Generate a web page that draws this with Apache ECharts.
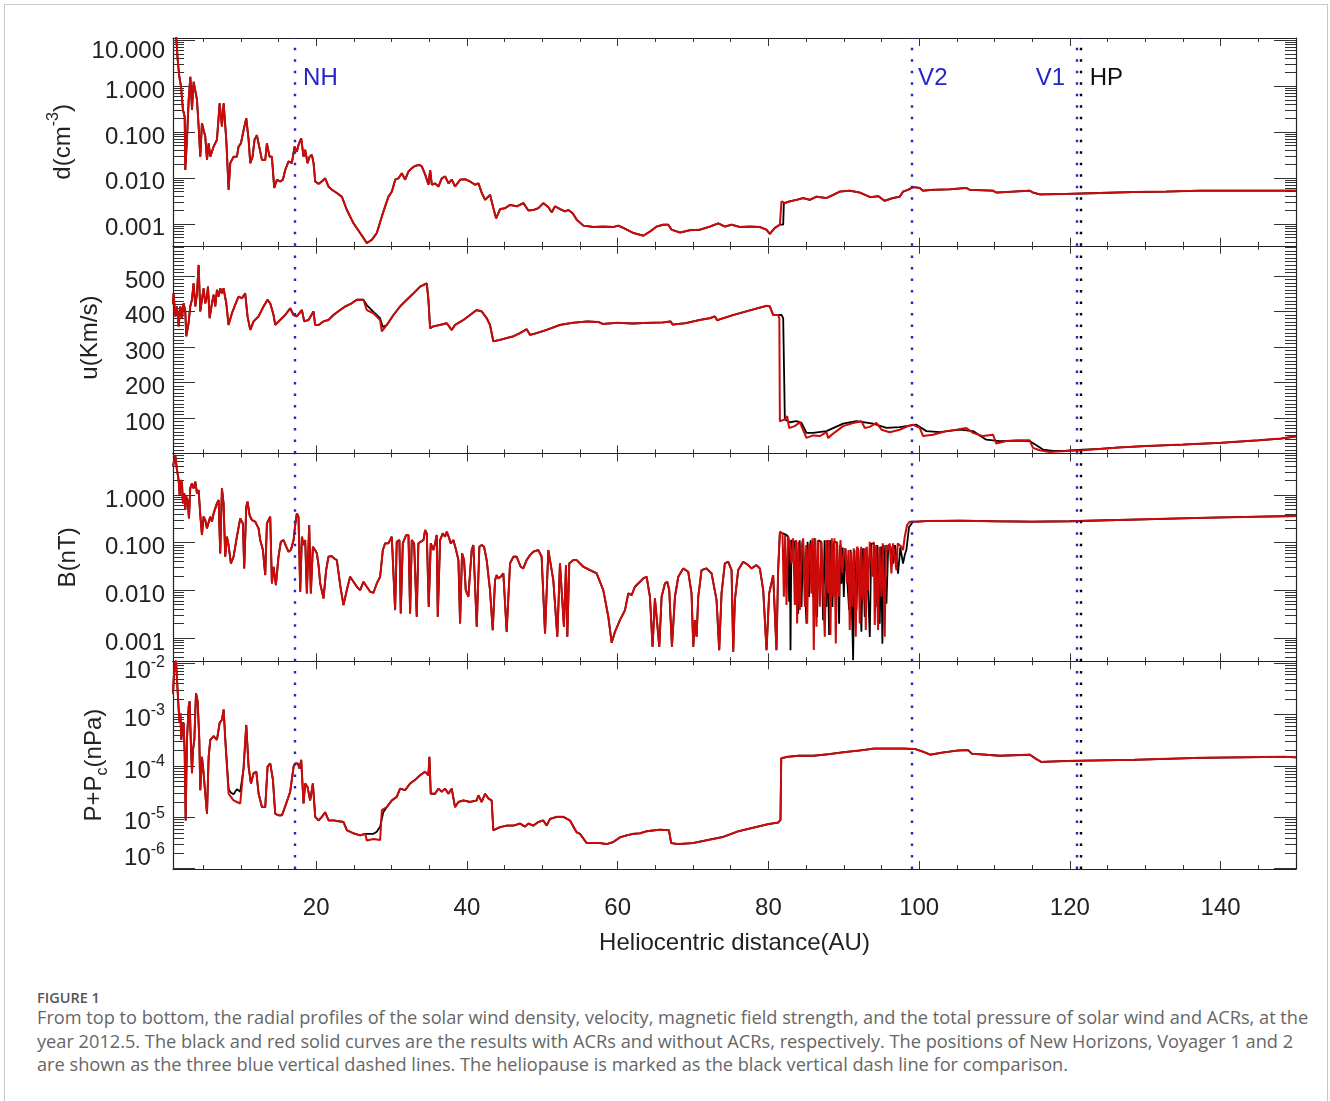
<!DOCTYPE html>
<html>
<head>
<meta charset="utf-8">
<title>Figure 1</title>
<script src="https://cdn.jsdelivr.net/npm/echarts@6/dist/echarts.min.js"></script>
<style>
  html, body { margin: 0; padding: 0; background: #fff; }
  #frame { position: absolute; left: 4px; top: 4px; width: 1322px; height: 1110px; border: 1px solid #c9c9c9; }
  #chart { position: absolute; left: 0; top: 0; width: 1330px; height: 985px; }
  #caption { position: absolute; left: 37px; top: 990px; font-family: "Open Sans", Lato, sans-serif; color: #666; white-space: nowrap; }
  #caption .fig { font-size: 14.5px; line-height: 16px; font-weight: 600; color: #555; }
  #caption .txt { font-size: 18.2px; line-height: 23.5px; }
</style>
</head>
<body>
<div id="frame"></div>
<div id="chart"></div>
<div id="caption">
  <div class="fig">FIGURE 1</div>
  <div class="txt">From top to bottom, the radial profiles of the solar wind density, velocity, magnetic field strength, and the total pressure of solar wind and ACRs, at the<br>year 2012.5. The black and red solid curves are the results with ACRs and without ACRs, respectively. The positions of New Horizons, Voyager 1 and 2<br>are shown as the three blue vertical dashed lines. The heliopause is marked as the black vertical dash line for comparison.</div>
</div>
<script>
// ---- data (x = heliocentric distance in AU) ----
const xMajor = [20, 40, 60, 80, 100, 120, 140];

// spacecraft / heliopause positions (AU)
const markerNames = ['NH', 'V2', 'V1', 'HP'];
const markerAU = [17.2, 99.0, 120.95, 121.5];

// log10 of density d (cm^-3), without ACRs (red)
const densityRed = [
  [1.0,1.2],[1.4,1.15],[1.62,0.57],[1.84,0.20],[2.06,-0.01],[2.32,-0.52],[2.55,-0.67],[2.63,-1.83],[2.85,-1.17],[3.08,-0.30],
  [3.30,0.20],[3.52,-0.52],[3.74,0.09],[3.96,0.13],[4.18,-0.30],[4.40,-0.88],[4.62,-1.54],[4.84,-0.81],[5.06,-0.96],[5.28,-1.10],
  [5.51,-1.61],[5.73,-1.25],[5.95,-1.54],[6.39,-1.32],[6.83,-1.17],[7.19,-0.38],[7.49,-0.88],[7.72,-0.38],[8.07,-1.17],[8.38,-2.26],
  [8.60,-1.68],[9.04,-1.54],[9.48,-1.54],[9.70,-1.32],[10.01,-1.25],[10.37,-0.96],[10.72,-0.70],[11.03,-1.17],[11.25,-1.68],[11.56,-1.54],
  [11.82,-1.17],[12.13,-1.07],[12.44,-1.32],[12.80,-1.61],[13.24,-1.61],[13.46,-1.25],[13.81,-1.54],[14.12,-1.54],[14.43,-2.22],[14.79,-2.04],
  [15.23,-2.08],[15.58,-2.04],[15.89,-1.83],[16.33,-1.64],[16.77,-1.68],[17.13,-1.32],[17.44,-1.43],[17.66,-1.28],[18.01,-1.14],[18.32,-1.54],
  [18.54,-1.39],[18.85,-1.68],[19.12,-1.54],[19.43,-1.50],[19.65,-1.68],[19.87,-2.08],[20.31,-2.13],[20.75,-2.08],[21.19,-2.01],[21.64,-2.19],
  [22.08,-2.26],[22.74,-2.33],[23.40,-2.41],[24.07,-2.70],[24.95,-2.99],[25.83,-3.20],[26.72,-3.42],[27.38,-3.35],[28.04,-3.20],[28.71,-2.84],
  [29.15,-2.62],[29.59,-2.41],[30.04,-2.30],[30.48,-2.04],[30.92,-2.01],[31.36,-1.90],[31.80,-2.04],[32.25,-1.86],[32.69,-1.79],[33.13,-1.74],
  [33.70,-1.72],[34.01,-1.75],[34.46,-1.93],[34.90,-2.15],[35.12,-1.83],[35.34,-2.15],[35.78,-2.12],[36.22,-2.19],[36.66,-2.01],[37.11,-1.97],
  [37.55,-2.12],[37.99,-2.04],[38.43,-2.19],[39.10,-2.04],[39.76,-2.03],[40.42,-2.08],[41.08,-2.15],[41.53,-2.12],[41.97,-2.33],[42.41,-2.48],
  [43.07,-2.37],[43.51,-2.66],[43.87,-2.88],[44.40,-2.68],[45.06,-2.66],[45.72,-2.59],[46.61,-2.62],[47.49,-2.55],[48.15,-2.71],[48.82,-2.70],
  [49.48,-2.66],[50.14,-2.55],[50.81,-2.64],[51.25,-2.75],[51.69,-2.62],[52.35,-2.68],[53.01,-2.73],[53.46,-2.70],[54.03,-2.77],[54.56,-2.91],
  [55.45,-3.04],[56.77,-3.07],[58.10,-3.06],[59.42,-3.07],[60.09,-3.04],[60.75,-3.09],[62.07,-3.20],[63.40,-3.26],[64.28,-3.17],[65.17,-3.06],
  [66.05,-3.02],[66.71,-3.02],[67.16,-3.13],[68.26,-3.19],[69.59,-3.14],[70.91,-3.13],[72.24,-3.06],[73.34,-2.99],[74.23,-3.06],[75.11,-3.02],
  [76.21,-3.07],[77.54,-3.06],[78.87,-3.07],[79.75,-3.13],[80.19,-3.22],[80.85,-3.09],[81.52,-3.02],[81.74,-2.51],[82.18,-2.55],[82.84,-2.51],
  [83.73,-2.48],[84.61,-2.44],[85.49,-2.48],[86.38,-2.41],[87.70,-2.44],[88.59,-2.37],[89.47,-2.30],[90.80,-2.28],[92.12,-2.32],[93.5,-2.42],
  [94.6,-2.40],[95.4,-2.50],[96.5,-2.44],[97.43,-2.41],[97.87,-2.30],[98.53,-2.26],[99.20,-2.20],[100.08,-2.22],[100.52,-2.28],[101.85,-2.26],
  [104.06,-2.25],[106.27,-2.22],[106.71,-2.26],[109.80,-2.28],[110.24,-2.32],[114.66,-2.28],[115.11,-2.32],[115.99,-2.36],[119.52,-2.35],[123.94,-2.33],
  [128.36,-2.31],[132.78,-2.30],[137.20,-2.28],[141.62,-2.28],[146.04,-2.28],[150,-2.28]
];
// with ACRs (black): same profile, shock jump slightly further out
const densityBlackJump = [[81.96,-3.02],[82.05,-2.55]];
const densityBlack = [...densityRed.filter(p => p[0] < 81.6), ...densityBlackJump, ...densityRed.filter(p => p[0] > 82.1)];

// velocity u (km/s), without ACRs (red)
const velocityRed = [
  [1.0,420],[1.08,451],[1.30,386],[1.53,414],[1.75,358],[1.97,414],[2.19,381],[2.41,423],[2.63,400],[2.76,330],
  [3.07,367],[3.29,414],[3.51,433],[3.73,479],[3.96,414],[4.18,451],[4.40,531],[4.62,400],[4.84,433],[5.06,465],
  [5.28,423],[5.50,442],[5.64,470],[5.86,381],[6.17,423],[6.39,447],[6.61,414],[6.83,461],[7.05,442],[7.27,465],
  [7.49,451],[7.71,465],[8.07,423],[8.37,362],[8.82,395],[9.26,419],[9.70,442],[10.14,437],[10.58,451],[10.89,386],
  [11.25,348],[11.69,372],[12.35,386],[13.01,414],[13.55,433],[13.90,423],[14.34,390],[14.56,362],[15.22,376],[15.89,390],
  [16.55,409],[16.99,390],[17.43,386],[18.10,404],[18.41,372],[18.98,376],[19.64,400],[19.86,362],[20.31,362],[20.97,372],
  [21.63,376],[22.29,390],[23.18,404],[23.84,414],[24.72,423],[25.39,433],[26.27,433],[26.71,404],[27.60,395],[28.48,376],
  [28.70,344],[29.37,362],[30.25,390],[31.13,414],[32.02,433],[32.90,451],[33.78,470],[34.67,479],[34.89,433],[35.11,353],
  [35.55,358],[36.43,362],[37.32,367],[37.98,348],[38.42,362],[39.53,376],[40.41,390],[41.29,404],[41.96,400],[42.62,381],
  [43.06,362],[43.50,316],[44.39,320],[45.27,325],[46.16,330],[47.04,339],[47.93,350],[48.37,334],[49.25,339],[50.58,348],
  [52.34,362],[54,368],[56,372],[57.5,370],[58,365],[60,368],[62,366],[64,368],[66,369],[67,372],
  [67.3,363],[69,367],[70.91,376],[72.24,381],[72.90,386],[73.21,375],[73.56,378],[75.33,390],[77.54,403],[79.75,416],
  [80.19,414],[80.63,390],[81.29,390],[81.45,380],[81.52,91],[81.74,91],[82.18,96],[82.49,105],[82.75,72],[83.50,77],
  [84.17,88],[85.05,44],[85.93,51],[86.82,49],[87.70,60],[87.92,44],[88.59,56],[89.91,77],[91.24,86],[92.34,91],
  [92.78,72],[93.45,75],[94.33,86],[95.00,67],[96.10,60],[97.42,67],[98.75,79],[99.19,81],[100.08,72],[100.52,49],
  [101.84,53],[103.61,63],[104.94,67],[106.26,72],[107.15,58],[108.47,49],[109.80,53],[110.24,28],[111.57,35],[113.33,37],
  [114.66,37],[115.10,16],[115.99,9],[117.31,4],[119.52,7],[121.73,9],[123.94,13],[126.59,17],[130,21],[135,25],
  [140,30],[145,37],[148,42],[150,48]
];
const velocityBlackA = [[26.27,433],[26.71,418],[27.60,399],[28.48,381],[28.84,356],[29.37,362]];
const velocityBlackB = [
  [81.29,390],[81.74,390],[81.96,381],[82.18,96],[82.84,88],[83.73,91],[84.39,86],[85.05,58],[85.93,58],[87.70,63],
  [89.91,84],[91.68,91],[93.89,84],[95.66,72],[97.42,74],[99.63,81],[100.96,63],[102.73,60],[105.38,67],[107.15,63],
  [108.91,39],[110.68,35],[112.89,36],[114.66,35],[116.43,11],[117.75,7],[119.52,8],[121.73,11],[123.94,13]
];
const velocityBlack = [...velocityRed.filter(p => p[0] < 26.2), ...velocityBlackA,
  ...velocityRed.filter(p => p[0] > 29.4 && p[0] < 81.2), ...velocityBlackB, ...velocityRed.filter(p => p[0] > 124)];

// log10 of magnetic field B (nT), without ACRs (red)
const fieldRed = [
  [1.0,0.6],[1.08,0.665],[1.30,0.84],[1.53,0.525],[1.75,0.315],[1.88,0.0],[2.06,0.315],[2.19,0.245],[2.32,-0.175],[2.50,0.035],
  [2.63,-0.315],[2.76,-0.035],[2.94,-0.105],[3.12,-0.49],[3.29,0.14],[3.51,0.245],[3.73,0.14],[3.96,0.28],[4.18,0.035],[4.40,0.105],
  [4.62,-0.42],[4.84,-0.84],[5.06,-0.455],[5.28,-0.525],[5.50,-0.70],[5.72,-0.735],[5.94,-0.455],[6.17,-0.56],[6.39,-0.385],[6.61,-0.42],
  [6.83,-0.175],[7.05,-0.105],[7.27,-1.225],[7.49,0.14],[7.71,-0.175],[7.93,-1.295],[8.15,-0.875],[8.37,-1.05],[8.68,-1.435],[9.04,-1.295],
  [9.48,-0.875],[9.92,-0.49],[10.27,-0.595],[10.45,-1.541],[10.72,-0.245],[10.89,-0.14],[11.16,-0.42],[11.47,-0.525],[11.91,-0.56],[12.35,-0.70],
  [12.57,-0.945],[12.93,-1.155],[13.24,-1.681],[13.46,-0.595],[13.90,-0.455],[14.12,-1.856],[14.34,-1.506],[14.65,-1.891],[15.00,-1.295],[15.31,-0.98],
  [15.67,-0.945],[16.02,-1.085],[16.33,-1.19],[16.64,-1.155],[17.00,-0.945],[17.21,-0.63],[17.43,-0.385],[17.65,-0.455],[17.88,-2.031],[18.10,-0.875],
  [18.32,-1.05],[18.54,-0.945],[18.76,-2.066],[19.07,-0.63],[19.29,-2.066],[19.56,-1.085],[19.86,-1.155],[20.09,-1.225],[20.31,-1.471],[20.53,-1.856],
  [20.97,-2.171],[21.32,-1.576],[21.63,-1.295],[22.07,-1.282],[22.38,-1.331],[22.74,-1.366],[23.18,-1.891],[23.62,-2.311],[24.06,-1.996],[24.50,-1.716],
  [24.95,-1.821],[25.39,-1.926],[25.83,-1.996],[26.27,-1.821],[26.71,-1.926],[27.16,-2.031],[27.60,-2.052],[28.04,-1.856],[28.48,-1.716],[28.84,-1.155],
  [29.15,-1.015],[29.59,-1.015],[30.03,-0.875],[30.25,-0.91],[30.47,-2.416],[30.69,-0.98],[31.04,-0.945],[31.22,-2.486],[31.49,-1.015],[31.93,-0.84],
  [32.24,-0.84],[32.46,-2.486],[32.68,-0.945],[32.99,-1.015],[33.34,-2.556],[33.56,-1.015],[33.87,-0.98],[34.23,-0.945],[34.45,-0.735],[34.67,-0.805],
  [34.93,-2.346],[35.20,-1.015],[35.55,-1.155],[35.77,-1.015],[35.99,-0.84],[36.13,-2.556],[36.44,-0.945],[36.79,-0.805],[37.10,-0.875],[37.32,-0.77],
  [37.58,-0.875],[37.85,-1.015],[38.20,-0.945],[38.56,-1.155],[38.87,-1.366],[39.09,-2.696],[39.35,-1.225],[39.62,-1.366],[39.84,-1.996],[40.19,-2.136],
  [40.63,-1.155],[40.85,-1.05],[41.08,-1.085],[41.30,-2.766],[41.65,-1.085],[41.96,-1.05],[42.27,-1.085],[42.62,-1.366],[43.06,-1.996],[43.42,-2.836],
  [43.73,-1.786],[43.95,-1.681],[44.17,-1.751],[44.48,-1.716],[44.83,-1.646],[45.27,-2.871],[45.72,-1.436],[46.16,-1.296],[46.60,-1.296],[47.13,-1.506],
  [47.48,-1.541],[47.92,-1.366],[48.37,-1.261],[48.81,-1.19],[49.47,-1.155],[49.91,-1.296],[50.36,-2.906],[50.80,-1.155],[51.02,-1.12],[51.46,-1.786],
  [51.99,-2.976],[52.34,-1.436],[52.56,-1.471],[52.87,-2.766],[53.14,-1.471],[53.32,-2.976],[53.58,-1.436],[54.11,-1.366],[54.56,-1.366],[55.44,-1.506],
  [56.33,-1.576],[57.21,-1.646],[58.09,-1.996],[58.76,-2.556],[59.20,-3.10],[59.64,-2.871],[60.30,-2.626],[60.97,-2.416],[61.41,-2.066],[61.85,-2.101],
  [62.29,-1.926],[62.96,-1.821],[63.40,-1.751],[63.84,-1.716],[64.28,-2.136],[64.63,-3.186],[64.94,-2.171],[65.17,-2.206],[65.52,-3.186],[65.83,-2.136],
  [66.27,-1.856],[66.58,-1.821],[66.84,-1.996],[67.20,-3.186],[67.60,-2.136],[68.04,-1.716],[68.70,-1.541],[69.36,-1.611],[69.80,-2.066],[70.03,-3.186],
  [70.25,-2.626],[70.47,-2.976],[70.69,-2.136],[71.13,-1.576],[71.79,-1.541],[72.46,-1.646],[73.12,-2.206],[73.47,-3.256],[73.78,-2.066],[74.22,-1.436],
  [74.67,-1.401],[75.11,-1.576],[75.33,-3.291],[75.55,-2.206],[75.99,-1.576],[76.65,-1.401],[77.32,-1.471],[77.76,-1.541],[78.42,-1.471],[78.86,-1.541],
  [79.31,-1.996],[79.75,-3.256],[80.10,-2.066],[80.63,-1.681],[81.07,-3.256],[81.29,-1.576],[81.52,-0.77],
  [81.60,-0.77],[81.87,-0.805],[82.05,-2.136],[82.22,-0.84],[82.40,-2.311],[82.62,-0.875],[82.84,-0.98],[83.06,-1.436],[83.28,-0.91],[83.50,-2.311],
  [83.68,-0.945],[83.81,-2.696],[83.99,-0.98],[84.17,-2.416],[84.39,-1.085],[84.61,-0.91],[84.83,-2.346],[85.01,-1.05],[85.14,-2.696],[85.32,-1.155],
  [85.49,-1.015],[85.71,-2.066],[85.85,-0.91],[86.02,-3.256],[86.20,-0.91],[86.38,-2.766],[86.55,-0.945],[86.82,-2.346],[87.04,-0.98],[87.26,-1.015],
  [87.48,-2.976],[87.70,-0.945],[87.92,-2.066],[88.05,-0.945],[88.23,-2.941],[88.41,-0.91],[88.59,-2.136],[88.76,-0.91],[88.94,-3.116],[89.12,-0.98],
  [89.38,-2.136],[89.56,-0.945],[89.82,-1.646],[90.00,-1.225],[90.22,-1.12],[90.44,-1.856],[90.62,-1.155],[90.79,-2.836],[90.97,-1.19],[91.15,-2.346],
  [91.32,-1.12],[91.59,-2.976],[91.77,-1.085],[91.94,-1.155],[92.12,-2.696],[92.30,-1.085],[92.56,-2.206],[92.74,-1.12],[92.92,-2.836],[93.05,-1.085],
  [93.22,-1.996],[93.45,-0.98],[93.67,-0.945],[93.80,-1.716],[93.98,-0.98],[94.11,-2.731],[94.29,-1.05],[94.55,-2.836],[94.73,-1.085],[94.99,-2.136],
  [95.17,-1.015],[95.43,-2.976],[95.61,-1.05],[95.88,-1.155],[96.10,-1.015],[96.32,-1.646],[96.54,-1.015],[96.76,-0.98],[96.98,-1.576],[97.16,-1.015],
  [97.42,-0.98],[97.64,-1.085],[97.86,-1.155],[98.09,-0.875],[98.40,-0.63],[98.75,-0.56],[99.63,-0.56],[100.96,-0.546],[105.38,-0.539],[110,-0.55],
  [115,-0.56],[120,-0.55],[125,-0.53],[130,-0.51],[135,-0.49],[140,-0.47],[145,-0.455],[150,-0.44]
];
const fieldBlackDense = [
  [81.52,-0.80],[81.8,-0.80],[82.3,-0.83],[82.6,-0.87],[82.75,-2.24],[82.85,-0.95],[82.93,-3.26],[83.05,-0.95],[83.5,-0.98],[83.95,-2.49],
  [84.15,-0.95],[84.39,-2.35],[84.6,-0.98],[85.05,-2.70],[85.2,-0.98],[85.4,-2.14],[85.6,-0.95],[85.93,-2.14],[86.1,-0.91],[86.46,-2.56],
  [86.65,-0.95],[87.0,-0.98],[87.26,-2.63],[87.45,-0.95],[87.70,-2.35],[87.85,-0.95],[88.05,-2.94],[88.25,-0.95],[88.5,-2.35],[88.7,-0.98],
  [89.1,-1.0],[89.38,-2.70],[89.52,-1.05],[89.69,-1.86],[89.85,-1.10],[90.0,-2.14],[90.2,-1.12],[90.45,-1.10],[90.71,-2.42],[90.9,-1.15],
  [91.24,-3.47],[91.42,-1.15],[91.68,-2.42],[91.9,-1.12],[92.34,-2.87],[92.55,-1.12],[92.78,-2.56],[93.0,-1.10],[93.45,-2.98],[93.65,-1.02],
  [94.0,-1.02],[94.24,-2.35],[94.45,-1.05],[94.77,-2.70],[94.95,-1.08],[95.12,-3.12],[95.3,-1.05],[95.66,-2.28],[95.9,-1.05],[96.2,-1.08],
  [96.54,-1.44],[96.8,-1.05],[97.2,-1.65],[97.5,-1.10],[97.86,-1.44],[98.1,-1.25],[98.31,-1.15],[98.66,-0.67],[99.19,-0.56],[99.63,-0.56]
];
const fieldBlack = [...fieldRed.filter(p => p[0] < 81.5), ...fieldBlackDense, ...fieldRed.filter(p => p[0] > 100)];

// log10 of total pressure P+Pc (nPa), without ACRs (red)
const pressureRed = [
  [1.0,-2.6],[1.09,-2.31],[1.22,-1.99],[1.40,-1.95],[1.53,-2.31],[1.75,-2.90],[1.88,-3.16],[1.97,-2.97],[2.10,-3.49],[2.24,-3.23],
  [2.41,-3.16],[2.55,-3.75],[2.68,-5.06],[2.85,-3.49],[3.08,-2.84],[3.21,-2.74],[3.38,-3.62],[3.52,-4.14],[3.65,-3.69],[3.83,-3.49],
  [4.05,-2.58],[4.27,-2.74],[4.49,-3.49],[4.62,-4.47],[4.84,-3.82],[5.06,-4.14],[5.28,-4.54],[5.51,-4.93],[5.73,-3.82],[5.95,-3.49],
  [6.39,-3.42],[6.83,-3.49],[7.19,-3.16],[7.49,-3.10],[7.72,-2.90],[7.94,-3.49],[8.38,-4.54],[8.69,-4.60],[9.04,-4.67],[9.48,-4.70],
  [9.92,-4.73],[10.37,-4.01],[10.72,-3.20],[11.03,-4.01],[11.34,-4.34],[11.69,-4.14],[12.05,-4.11],[12.36,-4.54],[12.80,-4.80],[13.24,-4.80],
  [13.55,-4.01],[13.90,-3.95],[14.26,-4.27],[14.56,-4.93],[15.01,-4.96],[15.45,-4.96],[16.02,-4.73],[16.55,-4.50],[17.00,-4.01],[17.22,-3.95],
  [17.57,-3.95],[17.79,-4.05],[18.01,-3.88],[18.32,-4.73],[18.54,-4.34],[18.85,-4.41],[19.20,-4.67],[19.56,-4.34],[19.87,-4.99],[20.31,-5.06],
  [20.75,-4.99],[21.19,-4.90],[21.64,-5.06],[22.30,-5.06],[23.62,-5.09],[24.07,-5.25],[24.95,-5.31],[25.83,-5.35],[26.50,-5.32],[26.72,-5.45],
  [27.60,-5.42],[28.48,-5.44],[28.71,-4.86],[29.37,-4.80],[30.03,-4.67],[30.69,-4.60],[31.13,-4.44],[31.80,-4.47],[32.46,-4.34],[33.12,-4.27],
  [33.78,-4.18],[34.45,-4.11],[34.89,-4.18],[35.02,-3.82],[35.20,-4.54],[35.77,-4.54],[36.21,-4.44],[36.66,-4.50],[37.10,-4.44],[37.54,-4.54],
  [37.98,-4.44],[38.42,-4.80],[38.87,-4.70],[39.53,-4.67],[40.41,-4.70],[41.29,-4.67],[41.52,-4.57],[41.96,-4.70],[42.40,-4.54],[42.84,-4.63],
  [43.28,-4.67],[43.50,-5.25],[44.39,-5.19],[45.27,-5.16],[46.16,-5.16],[47.04,-5.12],[47.70,-5.18],[48.15,-5.12],[48.81,-5.16],[49.47,-5.09],
  [50.13,-5.06],[50.58,-5.16],[51.02,-5.03],[51.90,-4.99],[52.79,-4.99],[53.67,-5.06],[54.55,-5.29],[55.00,-5.32],[55.88,-5.50],[56.76,-5.50],
  [57.65,-5.50],[58.53,-5.52],[59.41,-5.48],[60.30,-5.39],[61.18,-5.35],[62.07,-5.32],[62.95,-5.31],[63.83,-5.27],[65.60,-5.24],[66.8,-5.25],
  [67.1,-5.50],[68,-5.52],[70,-5.50],[72,-5.44],[74,-5.38],[76,-5.27],[78,-5.20],[80,-5.13],[81.3,-5.10],[81.6,-5.05],
  [81.7,-3.85],[82.5,-3.82],[84,-3.80],[86,-3.80],[88,-3.77],[90,-3.73],[92,-3.70],[94,-3.66],[96,-3.66],[98,-3.66],
  [99.5,-3.67],[100.5,-3.72],[101.5,-3.78],[103,-3.74],[105,-3.70],[106.5,-3.69],[107,-3.76],[110.7,-3.80],[114.7,-3.78],[115.5,-3.86],
  [116.2,-3.92],[119.7,-3.90],[128.5,-3.88],[137.4,-3.84],[148.4,-3.82],[150,-3.83]
];
const pressureBlackA = [[8.38,-4.45],[8.69,-4.52],[9.04,-4.55],[9.48,-4.45],[9.92,-4.50],[10.37,-4.05]];
const pressureBlackB = [[26.72,-5.34],[27.6,-5.32],[28.04,-5.28],[28.48,-5.18],[28.9,-4.9],[29.37,-4.8]];
const pressureBlack = [...pressureRed.filter(p => p[0] < 8.2), ...pressureBlackA,
  ...pressureRed.filter(p => p[0] > 10.5 && p[0] < 26.6), ...pressureBlackB, ...pressureRed.filter(p => p[0] > 29.5)];

// ---- styling / layout ----
const FONT = '"Liberation Sans", Arial, Helvetica, sans-serif';
const BLUE = '#2424c8';
const RED = '#cc0a0a';
const INK = '#222';
const GRID_TOPS = [38, 245.75, 453.5, 661.25];
const GRID_H = 207.75;

function logMinor(lo, hi) {
  const out = [];
  for (let n = Math.floor(lo); n <= Math.ceil(hi); n++) {
    for (let k = 2; k <= 9; k++) {
      const v = n + Math.log10(k);
      if (v > lo && v < hi) out.push(v);
    }
  }
  return out;
}
const xMinor = [];
for (let v = 5; v < 150; v += 5) if (v % 20 !== 0) xMinor.push(v);
const uMinor = [];
for (let v = 10; v < 585; v += 10) if (v % 100 !== 0) uMinor.push(v);

const labelStyle = { fontSize: 24, fontFamily: FONT, color: INK };
const sup = { fontSize: 16, fontFamily: FONT, color: INK, lineHeight: 16 };

const panels = [
  {
    red: densityRed, black: densityBlack, min: -3.478, max: 1.043,
    major: [-3, -2, -1, 0, 1], minor: logMinor(-3.478, 1.043),
    fmt: v => { const s = Math.pow(10, v).toFixed(3); return Math.round(v) === 1 ? '{top|' + s + '}' : s; },
    rich: { top: Object.assign({}, labelStyle, { padding: [12, 0, 0, 0] }) },
    name: '{n|d(cm}{s|-3}{n|)}', nameGap: 98, namePad: 0
  },
  {
    red: velocityRed, black: velocityBlack, min: 0, max: 585,
    major: [100, 200, 300, 400, 500], minor: uMinor,
    fmt: v => String(v), rich: {},
    name: '{n|u(Km/s)}', nameGap: 71, namePad: 24
  },
  {
    red: fieldRed, black: fieldBlack, min: -3.49, max: 0.872,
    major: [-3, -2, -1, 0], minor: logMinor(-3.49, 0.872),
    fmt: v => Math.pow(10, v).toFixed(3), rich: {},
    name: '{n|B(nT)}', nameGap: 93, namePad: 0
  },
  {
    red: pressureRed, black: pressureBlack, min: -6.005, max: -1.96,
    major: [-6, -5, -4, -3, -2], minor: logMinor(-6.005, -1.96),
    fmt: v => {
      const r = Math.round(v);
      const st = r === -2 ? ['bt', 'st'] : r === -6 ? ['bb', 'sb'] : ['b', 's'];
      return '{' + st[0] + '|10}{' + st[1] + '|' + r + '}';
    },
    rich: {
      b: Object.assign({}, labelStyle, { lineHeight: 24 }),
      s: Object.assign({}, sup, { padding: [0, 0, 18, 0] }),
      bt: Object.assign({}, labelStyle, { lineHeight: 24, padding: [6, 0, 0, 0] }),
      st: Object.assign({}, sup, { padding: [0, 0, 12, 0] }),
      bb: Object.assign({}, labelStyle, { lineHeight: 24, padding: [0, 0, 30, 0] }),
      sb: Object.assign({}, sup, { padding: [0, 0, 48, 0] })
    },
    name: '{n|P+P}{c|c}{n|(nPa)}', nameGap: 67, namePad: 0
  }
];

const nameRich = {
  n: Object.assign({}, labelStyle, { lineHeight: 24 }),
  s: Object.assign({}, sup, { padding: [0, 0, 18, 0] }),
  c: Object.assign({}, sup, { padding: [18, 0, 0, 0] })
};

const grid = [], xAxis = [], yAxis = [], series = [];

function xAx(gi, pos, ticks, len, main, labels) {
  return {
    type: 'value', gridIndex: gi, min: 1, max: 150, position: pos,
    axisLine: { show: main, onZero: false, lineStyle: { color: INK, width: 1.2 } },
    axisTick: { show: true, inside: true, length: len, customValues: ticks, lineStyle: { color: '#333', width: 1 } },
    axisLabel: labels ? Object.assign({ show: true, customValues: xMajor, margin: 27 }, labelStyle) : { show: false },
    splitLine: { show: false },
    name: labels ? 'Heliocentric distance(AU)' : '',
    nameLocation: 'middle', nameGap: 62,
    nameTextStyle: labelStyle
  };
}

function yAx(gi, p, pos, ticks, len, main, labels) {
  const ax = {
    type: 'value', gridIndex: gi, min: p.min, max: p.max, position: pos,
    axisLine: { show: main, onZero: false, lineStyle: { color: INK, width: 1.2 } },
    axisTick: { show: true, inside: true, length: len, customValues: ticks, lineStyle: { color: '#333', width: 1 } },
    axisLabel: { show: false },
    splitLine: { show: false }
  };
  if (labels) {
    // labels sit a little below their ticks, as in the original figure
    ax.axisLabel = Object.assign({ show: true, customValues: p.major, margin: 8, padding: [10, 0, 0, 0], formatter: p.fmt, rich: p.rich }, labelStyle);
    ax.name = p.name;
    ax.nameLocation = 'middle';
    ax.nameRotate = 90;
    ax.nameGap = p.nameGap;
    ax.nameTextStyle = Object.assign({ rich: nameRich, padding: [0, 0, 0, p.namePad] }, labelStyle);
  }
  return ax;
}

panels.forEach((p, i) => {
  grid.push({ left: 173, width: 1123, top: GRID_TOPS[i], height: GRID_H, containLabel: false });
  xAxis.push(xAx(i, 'bottom', xMajor, 8, true, i === 3));
  xAxis.push(xAx(i, 'bottom', xMinor, 4, false, false));
  xAxis.push(xAx(i, 'top', xMajor, 8, true, false));
  xAxis.push(xAx(i, 'top', xMinor, 4, false, false));
  yAxis.push(yAx(i, p, 'left', p.major, 22, true, true));
  yAxis.push(yAx(i, p, 'left', p.minor, 11, false, false));
  yAxis.push(yAx(i, p, 'right', p.major, 22, true, false));
  yAxis.push(yAx(i, p, 'right', p.minor, 11, false, false));

  series.push({
    type: 'line', xAxisIndex: 4 * i, yAxisIndex: 4 * i, data: p.black,
    showSymbol: false, symbol: 'none', silent: true, z: 2,
    lineStyle: { color: '#000', width: 1.8 },
    markLine: {
      symbol: 'none', silent: true, animation: false, label: { show: false },
      emphasis: { disabled: true },
      data: markerAU.map((x, k) => ({
        xAxis: x,
        lineStyle: { color: k === 3 ? '#000' : BLUE, type: [2.5, 9], width: 2.4, cap: 'butt' }
      }))
    }
  });
  series.push({
    type: 'line', xAxisIndex: 4 * i, yAxisIndex: 4 * i, data: p.red,
    showSymbol: false, symbol: 'none', silent: true, z: 3,
    lineStyle: { color: RED, width: 2 }
  });
});

const chart = echarts.init(document.getElementById('chart'));
chart.setOption({
  animation: false,
  backgroundColor: 'transparent',
  textStyle: { fontFamily: FONT },
  grid, xAxis, yAxis, series
});

// spacecraft labels next to the marker lines in the top panel
const labelDx = [8, 6.5, -12, 8.5];
chart.setOption({
  graphic: markerNames.map((t, k) => {
    const px = chart.convertToPixel({ xAxisIndex: 0 }, markerAU[k]);
    return {
      type: 'text', x: px + labelDx[k], y: 78, silent: true,
      style: {
        text: t, fill: k === 3 ? '#111' : BLUE, font: '24px ' + FONT,
        align: k === 2 ? 'right' : 'left', verticalAlign: 'middle'
      }
    };
  })
});
</script>
</body>
</html>
